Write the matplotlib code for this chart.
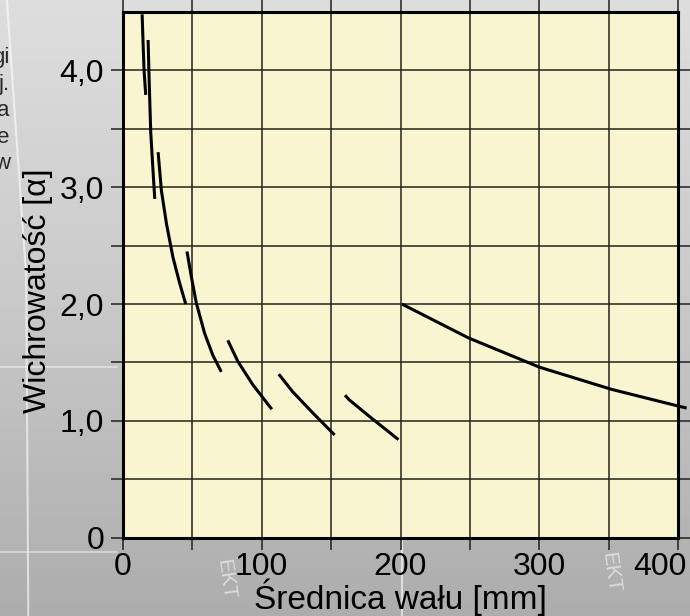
import numpy as np
import matplotlib
matplotlib.use("Agg")
import matplotlib.pyplot as plt
import matplotlib.transforms as mtransforms
from matplotlib.colors import LinearSegmentedColormap

plt.rcParams['font.family'] = ['Liberation Sans', 'DejaVu Sans']

# ── Data (shaft diameter [mm] vs. whirl factor alpha) ────────────────────────
curve1_x = [13.9, 14.6, 15.3, 16.5]
curve1_y = [4.48, 4.23, 4.00, 3.79]

curve2_x = [18.2, 18.9, 20.1, 21.6, 23.0]
curve2_y = [4.26, 3.94, 3.47, 3.17, 2.90]

curve3_x = [25.4, 27.8, 31.4, 36.1, 40.9, 45.3]
curve3_y = [3.30, 2.97, 2.69, 2.40, 2.18, 2.00]

curve4_x = [46.2, 49.4, 52.9, 58.9, 64.9, 70.9]
curve4_y = [2.45, 2.23, 2.01, 1.75, 1.56, 1.42]

curve5_x = [75.6, 82.8, 93.6, 107.3]
curve5_y = [1.69, 1.51, 1.31, 1.10]

curve6_x = [112.3, 122.3, 136.7, 152.5]
curve6_y = [1.40, 1.25, 1.07, 0.88]

curve7_x = [160.0, 163.1, 177.4, 198.5]
curve7_y = [1.22, 1.18, 1.04, 0.84]

curve8_x = [201.0, 249.0, 300.0, 352.0, 399.0, 406.0]
curve8_y = [2.00, 1.71, 1.46, 1.27, 1.13, 1.11]

x_ticks = [0, 100, 200, 300, 400]
x_tick_labels = ['0', '100', '200', '300', '400']
y_ticks = [0, 1, 2, 3, 4]
y_tick_labels = ['0', '1,0', '2,0', '3,0', '4,0']

x_label = 'Średnica wału [mm]'
y_label = 'Wichrowatość [α]'

# leftover letters of slide text cut off at the left edge
side_fragments = ['gi', 'j.', 'a', 'e', 'w']

curves = [
    (curve1_x, curve1_y), (curve2_x, curve2_y), (curve3_x, curve3_y),
    (curve4_x, curve4_y), (curve5_x, curve5_y), (curve6_x, curve6_y),
    (curve7_x, curve7_y), (curve8_x, curve8_y),
]

# ── Figure with grey slide-like background ───────────────────────────────────
fig = plt.figure(figsize=(6.9, 6.16), dpi=100)

bg = fig.add_axes([0, 0, 1, 1], zorder=-10)
grad = np.linspace(0, 1, 256).reshape(-1, 1)
slide_cmap = LinearSegmentedColormap.from_list('slide', ['#dedede', '#c9c9c9', '#adadad'])
bg.imshow(grad, aspect='auto', cmap=slide_cmap, extent=[0, 1, 0, 1], origin='upper')
bg.set_xlim(0, 1)
bg.set_ylim(0, 1)
bg.axis('off')

# faint slide decorations
bg.plot([0.010, 0.038, 0.041], [1.0, 0.55, 0.0], color='white', lw=1.5, alpha=0.6)
bg.plot([0, 0.17], [0.404, 0.404], color='white', lw=1.2, alpha=0.5)
bg.plot([0, 0.17], [0.104, 0.104], color='white', lw=1.2, alpha=0.5)
bg.plot([0.582, 0.582], [0, 0.125], color='white', lw=1.5, alpha=0.6)
for tx, ty in [(0.327, 0.06), (0.885, 0.07)]:
    bg.text(tx, ty, 'EKT', color='white', alpha=0.55, fontsize=15,
            rotation=-82, ha='center', va='center')

for i, frag in enumerate(side_fragments):
    bg.text(0.014, 0.906 - i * 0.043, frag, color='#2a2a2a', fontsize=16,
            ha='right', va='center')

# ── Main chart ───────────────────────────────────────────────────────────────
ax = fig.add_axes([0.178, 0.127, 0.805, 0.8536])
ax.set_facecolor('#f8f5d0')

for xs, ys in curves:
    ax.plot(xs, ys, color='black', lw=2.2, solid_capstyle='butt', clip_on=False, zorder=3)

ax.set_xlim(0, 400)
ax.set_ylim(0, 4.5)
ax.set_xticks(x_ticks)
ax.set_xticklabels(x_tick_labels)
ax.set_yticks(y_ticks)
ax.set_yticklabels(y_tick_labels)
ax.set_xticks(np.arange(50, 400, 100), minor=True)
ax.set_yticks(np.arange(0.5, 4.5, 1.0), minor=True)

ax.grid(which='both', color='#22221a', lw=1.1)
ax.tick_params(which='both', direction='out', length=8.5, width=1.1, color='#22221a',
               top=True, right=True, labelsize=23, pad=1.5)
ax.tick_params(axis='y', which='both', pad=5)

for sp in ax.spines.values():
    sp.set_linewidth(2.2)
    sp.set_color('black')

# last x label is pushed left so it stays inside the picture
last = ax.get_xticklabels()[-1]
last.set_transform(last.get_transform() + mtransforms.ScaledTranslation(-0.18, 0, fig.dpi_scale_trans))

ax.set_xlabel(x_label, fontsize=24, labelpad=-2)
ax.set_ylabel(y_label, fontsize=23)
ax.yaxis.set_label_coords(-0.125, 0.47)

fig.savefig('out.png', dpi=100)
